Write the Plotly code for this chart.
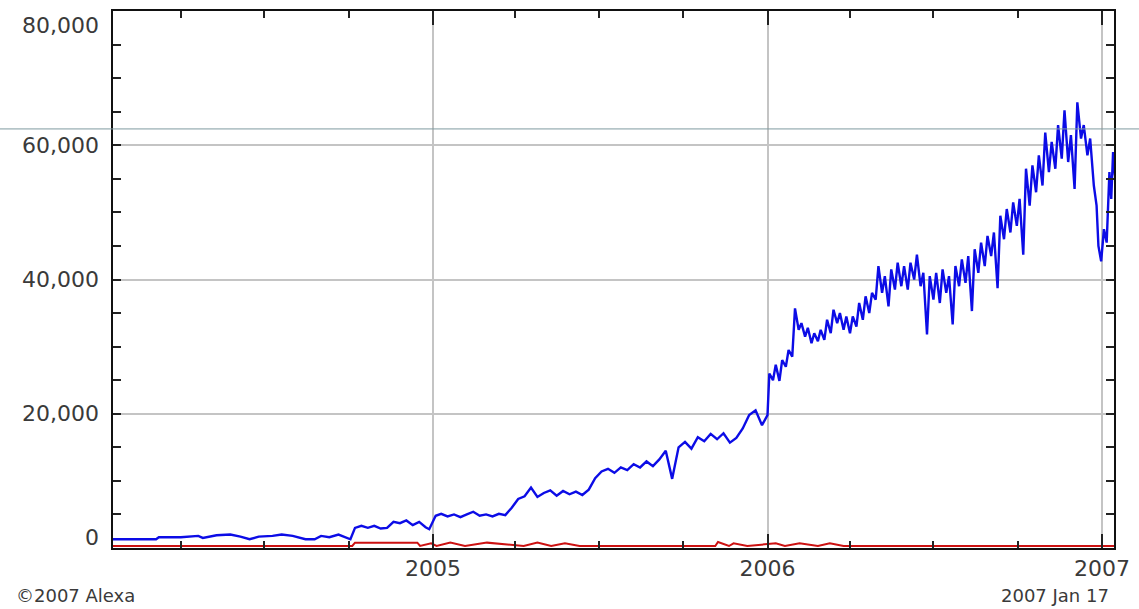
import plotly.graph_objects as go

# ---- data ----
reach_dates = [
    "2004-01-17", "2004-02-20", "2004-03-05", "2004-03-08", "2004-04-01", "2004-04-20", "2004-04-25",
    "2004-05-10", "2004-05-25", "2004-06-05", "2004-06-15", "2004-06-25", "2004-07-10", "2004-07-20",
    "2004-08-01", "2004-08-15", "2004-08-25", "2004-09-01", "2004-09-10", "2004-09-20", "2004-09-28",
    "2004-10-03", "2004-10-08", "2004-10-15", "2004-10-22", "2004-10-29", "2004-11-05", "2004-11-12",
    "2004-11-19", "2004-11-26", "2004-12-03", "2004-12-10", "2004-12-17", "2004-12-24", "2004-12-28",
    "2005-01-04", "2005-01-10", "2005-01-17", "2005-01-24", "2005-01-31", "2005-02-07", "2005-02-14",
    "2005-02-21", "2005-02-28", "2005-03-07", "2005-03-14", "2005-03-21", "2005-03-28", "2005-04-04",
    "2005-04-11", "2005-04-18", "2005-04-25", "2005-05-02", "2005-05-09", "2005-05-16", "2005-05-23",
    "2005-05-30", "2005-06-06", "2005-06-13", "2005-06-20", "2005-06-27", "2005-07-04", "2005-07-11",
    "2005-07-18", "2005-07-25", "2005-08-01", "2005-08-08", "2005-08-15", "2005-08-22", "2005-08-29",
    "2005-09-05", "2005-09-12", "2005-09-19", "2005-09-26", "2005-10-03", "2005-10-10", "2005-10-17",
    "2005-10-24", "2005-10-31", "2005-11-07", "2005-11-14", "2005-11-21", "2005-11-28", "2005-12-05",
    "2005-12-12", "2005-12-19", "2005-12-26",
    "2006-01-01", "2006-01-03", "2006-01-07", "2006-01-10", "2006-01-14", "2006-01-17", "2006-01-21",
    "2006-01-24", "2006-01-28", "2006-01-31", "2006-02-04", "2006-02-07", "2006-02-11", "2006-02-14",
    "2006-02-18", "2006-02-21", "2006-02-25", "2006-02-28", "2006-03-04", "2006-03-07", "2006-03-11",
    "2006-03-14", "2006-03-18", "2006-03-21", "2006-03-25", "2006-03-28", "2006-04-01", "2006-04-04",
    "2006-04-08", "2006-04-11", "2006-04-15", "2006-04-18", "2006-04-22", "2006-04-25", "2006-04-29",
    "2006-05-02", "2006-05-06", "2006-05-09", "2006-05-13", "2006-05-16", "2006-05-20", "2006-05-23",
    "2006-05-27", "2006-05-30", "2006-06-03", "2006-06-06", "2006-06-10", "2006-06-13", "2006-06-17",
    "2006-06-20", "2006-06-24", "2006-06-27", "2006-07-01", "2006-07-04", "2006-07-08", "2006-07-11",
    "2006-07-15", "2006-07-18", "2006-07-22", "2006-07-25", "2006-07-29", "2006-08-01", "2006-08-05",
    "2006-08-08", "2006-08-12", "2006-08-15", "2006-08-19", "2006-08-22", "2006-08-26", "2006-08-29",
    "2006-09-02", "2006-09-05", "2006-09-09", "2006-09-12", "2006-09-16", "2006-09-19", "2006-09-23",
    "2006-09-26", "2006-09-30", "2006-10-03", "2006-10-07", "2006-10-10", "2006-10-14", "2006-10-17",
    "2006-10-21", "2006-10-24", "2006-10-28", "2006-10-31", "2006-11-04", "2006-11-07", "2006-11-11",
    "2006-11-14", "2006-11-18", "2006-11-21", "2006-11-25", "2006-11-28", "2006-12-02", "2006-12-05",
    "2006-12-09", "2006-12-12", "2006-12-16", "2006-12-19", "2006-12-23", "2006-12-26", "2006-12-28",
    "2006-12-31", "2007-01-03", "2007-01-06", "2007-01-09", "2007-01-11", "2007-01-13", "2007-01-15",
    "2007-01-16",
]
reach_values = [
    1300, 1300, 1300, 1600, 1600, 1800, 1500,
    1900, 2000, 1700, 1300, 1700, 1800, 2000,
    1800, 1300, 1300, 1800, 1600, 2000, 1500,
    1300, 3000, 3300, 3000, 3300, 2900, 3000,
    3900, 3700, 4100, 3400, 3900, 3100, 2800,
    4800, 5100, 4700, 5000, 4600, 5000, 5400,
    4800, 5000, 4700, 5100, 4900, 6000, 7300,
    7700, 9000, 7600, 8200, 8600, 7800, 8500,
    8000, 8400, 7900, 8700, 10400, 11400, 11800,
    11200, 12000, 11600, 12500, 12000, 12900, 12200,
    13200, 14500, 10300, 15000, 15800, 14800, 16500,
    15900, 17000, 16200, 17100, 15700, 16400, 17800,
    19800, 20500, 18300,
    19800, 26000, 25000, 27300, 24900, 28000, 27000,
    29500, 28500, 35700, 32500, 33500, 31500, 32800,
    30500, 32000, 30800, 32500, 31000, 34000, 32000,
    35500, 33500, 35000, 32500, 34500, 32000, 34500,
    33000, 36500, 34000, 37500, 35000, 38000, 37000,
    42000, 38000, 40500, 36000, 41500, 38500, 42500,
    39000, 42000, 38500, 42500, 40000, 43700, 39000,
    41000, 31800, 40500, 37000, 41000, 36500, 41500,
    38000, 40500, 33300, 42000, 39000, 43000, 39500,
    43500, 35300, 44500, 41000, 45500, 42000, 46500,
    43500, 47000, 38700, 49500, 46000, 50500, 47000,
    51500, 48000, 52000, 43700, 56500, 51000, 57000,
    53000, 58500, 54000, 61900, 56000, 60500, 56500,
    63000, 58000, 65200, 57500, 61500, 53500, 66400,
    61000, 63000, 58500, 61000, 54000, 51000, 45000,
    42700, 47500, 45500, 56000, 52000, 59000, 55500,
    62500,
]

red_dates = [
    "2004-01-17", "2004-10-05", "2004-10-08", "2004-12-15", "2004-12-18", "2004-12-30",
    "2005-01-05", "2005-01-20", "2005-02-05", "2005-03-01", "2005-04-10", "2005-04-25",
    "2005-05-10", "2005-05-25", "2005-06-10", "2005-06-15", "2005-11-05", "2005-11-08",
    "2005-11-20", "2005-11-25", "2005-12-10", "2006-01-10", "2006-01-20", "2006-02-05",
    "2006-02-25", "2006-03-10", "2006-03-25", "2007-01-16",
]
red_values = [
    300, 300, 800, 800, 300, 700,
    300, 800, 300, 800, 300, 800,
    300, 700, 300, 300, 300, 900,
    300, 700, 300, 700, 300, 700,
    300, 700, 300, 300,
]

y_tick_values = [0, 20000, 40000, 60000, 80000]
y_tick_labels = ["0", "20,000", "40,000", "60,000", "80,000"]
x_tick_values = ["2005-01-01", "2006-01-01", "2007-01-01"]
x_tick_labels = ["2005", "2006", "2007"]

TEXT = "#3a3a3a"
FONT = "DejaVu Sans"

fig = go.Figure()
fig.add_trace(go.Scatter(x=red_dates, y=red_values, mode="lines",
                         line=dict(color="#cc1111", width=2), hoverinfo="skip"))
fig.add_trace(go.Scatter(x=reach_dates, y=reach_values, mode="lines",
                         line=dict(color="#0c0ce6", width=2.4), hoverinfo="skip"))

fig.update_layout(
    width=1139, height=609,
    margin=dict(l=113, r=19, t=9, b=61),
    paper_bgcolor="white", plot_bgcolor="white",
    showlegend=False,
    font=dict(family=FONT, color=TEXT, size=22),
)

fig.update_xaxes(
    type="date", range=["2004-01-18", "2007-01-14"],
    tickmode="array", tickvals=x_tick_values, ticktext=x_tick_labels,
    ticks="inside", ticklen=14, tickwidth=2, tickcolor="#222",
    showgrid=True, gridcolor="#c4c4c4", gridwidth=2,
    showline=True, linecolor="#111", linewidth=2, mirror="allticks",
    tickfont=dict(family=FONT, size=22, color=TEXT),
    minor=dict(ticks="inside", ticklen=7, tickwidth=2, tickcolor="#222",
               dtick="M3", tick0="2005-01-01", showgrid=False),
    zeroline=False,
)
fig.update_yaxes(
    range=[0, 80000],
    tickmode="array", tickvals=y_tick_values, ticktext=[""] * len(y_tick_values),
    showticklabels=False,
    ticks="inside", ticklen=14, tickwidth=2, tickcolor="#222",
    showgrid=True, gridcolor="#c4c4c4", gridwidth=2,
    showline=True, linecolor="#111", linewidth=2, mirror="allticks",
    minor=dict(ticks="inside", ticklen=8, tickwidth=2, tickcolor="#222",
               dtick=5000, tick0=0, showgrid=False),
    zeroline=False,
)

# y tick labels (0 and 80,000 are nudged inside the frame like the reference)
shifts = {0: 11, 80000: -14}
for v, t in zip(y_tick_values, y_tick_labels):
    fig.add_annotation(x=0, xref="paper", y=v, yref="y", text=t, showarrow=False,
                       xanchor="right", yanchor="middle", xshift=-12, yshift=shifts.get(v, 0),
                       font=dict(family=FONT, size=22, color=TEXT))

fig.add_annotation(x=-0.099, xref="paper", y=-0.089, yref="paper", text="©2007 Alexa",
                   showarrow=False, xanchor="left", yanchor="middle",
                   font=dict(family=FONT, size=18, color=TEXT))
fig.add_annotation(x=0.997, xref="paper", y=-0.089, yref="paper", text="2007 Jan 17",
                   showarrow=False, xanchor="right", yanchor="middle",
                   font=dict(family=FONT, size=18, color=TEXT))

# thin horizontal rule across the whole image seen in the reference
fig.add_shape(type="line", xref="paper", yref="paper", x0=-0.12, x1=1.03,
              y0=0.7804, y1=0.7804, line=dict(color="#7f9ba0", width=1), layer="above")

fig.write_html("out.html", config={"displayModeBar": False},
               post_script="document.body.style.margin='0';document.body.style.overflow='hidden';")
